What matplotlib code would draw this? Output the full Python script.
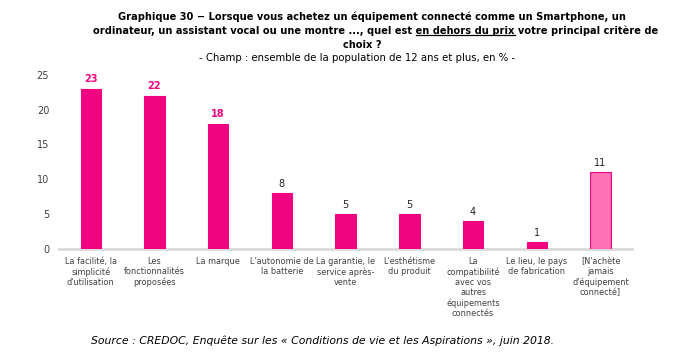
import matplotlib.pyplot as plt
from matplotlib.lines import Line2D

# data
categories = [
    "La facilité, la\nsimplicité\nd'utilisation",
    "Les\nfonctionnalités\nproposées",
    "La marque",
    "L'autonomie de\nla batterie",
    "La garantie, le\nservice après-\nvente",
    "L'esthétisme\ndu produit",
    "La\ncompatibilité\navec vos\nautres\néquipements\nconnectés",
    "Le lieu, le pays\nde fabrication",
    "[N'achète\njamais\nd'équipement\nconnecté]",
]
values = [23, 22, 18, 8, 5, 5, 4, 1, 11]
yticks = [0, 5, 10, 15, 20, 25]

pink = "#F0047F"
light_pink = "#FF72B6"
grey_txt = "#404040"

plt.rcParams['font.family'] = 'DejaVu Sans'

fig = plt.figure(figsize=(6.77, 3.61), dpi=100)
ax = fig.add_axes([0.087, 0.31, 0.847, 0.483])

x = list(range(len(values)))
colors = [pink] * (len(values) - 1) + [light_pink]
bars = ax.bar(x, values, width=0.32, color=colors, edgecolor=pink, linewidth=0.8, zorder=3)

for i, v in enumerate(values):
    if i < 3:
        ax.text(i, v + 0.6, str(v), ha='center', va='bottom', fontsize=7, fontweight='bold', color=pink)
    else:
        ax.text(i, v + 0.6, str(v), ha='center', va='bottom', fontsize=7, color="#222222")

ax.set_xlim(-0.5, len(values) - 0.5)
ax.set_ylim(0, 25)
ax.set_yticks(yticks)
ax.set_yticklabels([str(t) for t in yticks], fontsize=7, color=grey_txt)
ax.set_xticks(x)
ax.set_xticklabels(categories, fontsize=5.9, color=grey_txt, linespacing=1.15)
ax.tick_params(axis='both', length=0)
ax.tick_params(axis='y', pad=7)
ax.tick_params(axis='x', pad=6)
for s in ['top', 'right', 'left']:
    ax.spines[s].set_visible(False)
ax.spines['bottom'].set_color('#D9D9D9')
ax.spines['bottom'].set_linewidth(2)

# title
tfont = dict(fontsize=7.1, fontweight='bold', color='black')
fig.text(0.550, 1 - 17 / 361, "Graphique 30 \u2212 Lorsque vous achetez un équipement connecté comme un Smartphone, un",
         ha='center', va='center', **tfont)
pre = "ordinateur, un assistant vocal ou une montre ..., quel est "
und = "en dehors du prix"
post = " votre principal critère de"
y2 = 1 - 31 / 361
t_full = fig.text(0.555, y2, pre + und + post, ha='center', va='center', **tfont)
fig.canvas.draw()
r = fig.canvas.get_renderer()
bb_full = t_full.get_window_extent(r)
w_pre = fig.text(0, 0, pre.replace(" ", "\u00a0"), alpha=0, **tfont).get_window_extent(r).width
w_und = fig.text(0, 0, und, alpha=0, **tfont).get_window_extent(r).width
W = fig.bbox.width
x0 = (bb_full.x0 + w_pre) / W
x1 = (bb_full.x0 + w_pre + w_und) / W
yl = (bb_full.y0 + 1) / fig.bbox.height
fig.add_artist(Line2D([x0, x1], [yl, yl], color='black', linewidth=0.9, transform=fig.transFigure))

fig.text(0.535, 1 - 45 / 361, "choix ?", ha='center', va='center', **tfont)
fig.text(0.527, 1 - 58 / 361, "- Champ : ensemble de la population de 12 ans et plus, en % -",
         ha='center', va='center', fontsize=7.3, color='black')

fig.text(0.476, 1 - 341 / 361,
         "Source : CREDOC, Enquête sur les « Conditions de vie et les Aspirations », juin 2018.",
         ha='center', va='center', fontsize=7.85, style='italic', color='black')

plt.savefig("out.png", dpi=100)
